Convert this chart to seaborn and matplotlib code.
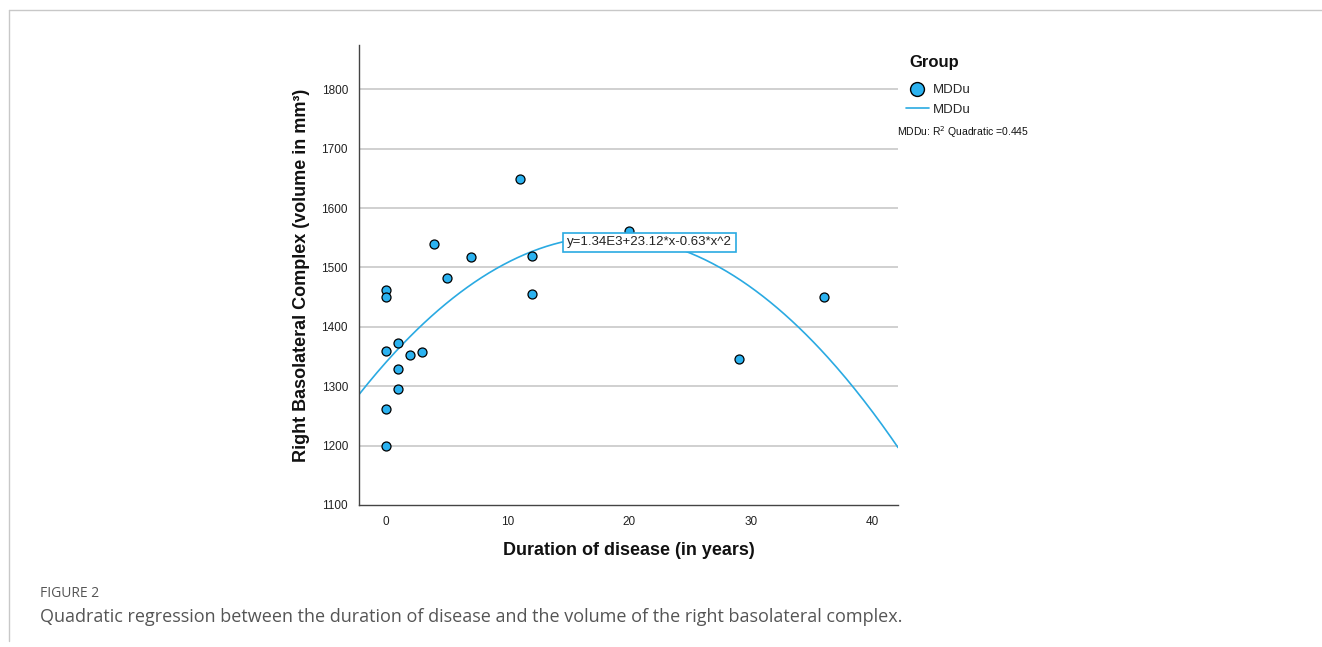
import numpy as np
import pandas as pd
import matplotlib
matplotlib.use("Agg")
import matplotlib.pyplot as plt
import seaborn as sns
from matplotlib.lines import Line2D

# data
duration = [0, 0, 0, 0, 0, 1, 1, 1, 2, 3, 4, 5, 7, 11, 12, 12, 20, 29, 36]
volume = [1462, 1450, 1360, 1262, 1200, 1372, 1329, 1295, 1352, 1357,
          1540, 1483, 1517, 1649, 1519, 1455, 1562, 1345, 1450]
# quadratic fit coefficients (from the equation label)
coef_a, coef_b, coef_c = 1340.0, 23.12, -0.63
y_ticks = [1100, 1200, 1300, 1400, 1500, 1600, 1700, 1800]
x_ticks = [0, 10, 20, 30, 40]

df = pd.DataFrame({"duration": duration, "volume": volume})

sns.set_theme(style="white")
plt.rcParams["font.family"] = ["Liberation Sans", "DejaVu Sans"]

blue = "#2AAAE2"
dot_blue = "#2BB2F0"

fig = plt.figure(figsize=(13.22, 6.47), dpi=100)
ax = fig.add_axes([0.2716, 0.2195, 0.4077, 0.7105])

xlim = (-2.2, 42.1)
fit_x = np.linspace(xlim[0], xlim[1], 300)
fit = pd.DataFrame({"x": fit_x, "y": coef_a + coef_b * fit_x + coef_c * fit_x ** 2})

for t in y_ticks[1:]:
    ax.axhline(t, color="#c8c8c8", linewidth=1.2, zorder=0)

sns.lineplot(data=fit, x="x", y="y", ax=ax, color=blue, linewidth=1.2, zorder=2)
sns.scatterplot(data=df, x="duration", y="volume", ax=ax, s=42, color=dot_blue,
                edgecolor="black", linewidth=0.9, zorder=3)

ax.set_xlim(*xlim)
ax.set_ylim(1100, 1874)
ax.set_xticks(x_ticks)
ax.set_yticks(y_ticks)
ax.tick_params(axis="both", length=0, labelsize=8.5, colors="#222222", pad=8)
for s in ["top", "right"]:
    ax.spines[s].set_visible(False)
for s in ["left", "bottom"]:
    ax.spines[s].set_color("#444444")
    ax.spines[s].set_linewidth(1.0)

ax.set_xlabel("Duration of disease (in years)", fontsize=13, fontweight="bold",
              labelpad=10, color="#111111")
ax.set_ylabel("Right Basolateral Complex (volume in mm³)", fontsize=13,
              fontweight="bold", labelpad=8, color="#111111")

# equation label
ax.text(21.7, 1542, "y=1.34E3+23.12*x-0.63*x^2", fontsize=9.5, ha="center",
        va="center", color="#222222", zorder=5,
        bbox=dict(boxstyle="square,pad=0.3", facecolor="white",
                  edgecolor=blue, linewidth=1.2))

# legend
fig.text(0.688, 0.904, "Group", fontsize=12, fontweight="bold", ha="left",
         va="center", color="#111111")
handles = [
    Line2D([], [], marker="o", linestyle="none", markersize=10,
           markerfacecolor=dot_blue, markeredgecolor="black", markeredgewidth=1),
    Line2D([], [], color=blue, linewidth=1.2),
]
fig.legend(handles, ["MDDu", "MDDu"], loc="upper left",
           bbox_to_anchor=(0.681, 0.878),
           frameon=False, fontsize=9.5,
           handlelength=1.8, handletextpad=0.3, labelspacing=0.55,
           borderaxespad=0)
fig.text(0.6785, 0.796, "MDDu: R$^{2}$ Quadratic =0.445", fontsize=7.5,
         ha="left", va="center", color="#111111")

# caption
fig.text(0.0303, 0.082, "FIGURE 2", fontsize=10, color="#555555",
         ha="left", va="center", family=["Open Sans", "DejaVu Sans"])
fig.text(0.0303, 0.046,
         "Quadratic regression between the duration of disease and the volume "
         "of the right basolateral complex.",
         fontsize=13, color="#555555", ha="left", va="center",
         family=["Open Sans", "DejaVu Sans"])

# page border lines
fig.add_artist(Line2D([0.0068, 1.0], [0.985, 0.985], color="#c8c8c8", linewidth=1))
fig.add_artist(Line2D([0.0068, 0.0068], [0.01, 0.985], color="#c8c8c8", linewidth=1))

fig.savefig("out.png", dpi=100)
